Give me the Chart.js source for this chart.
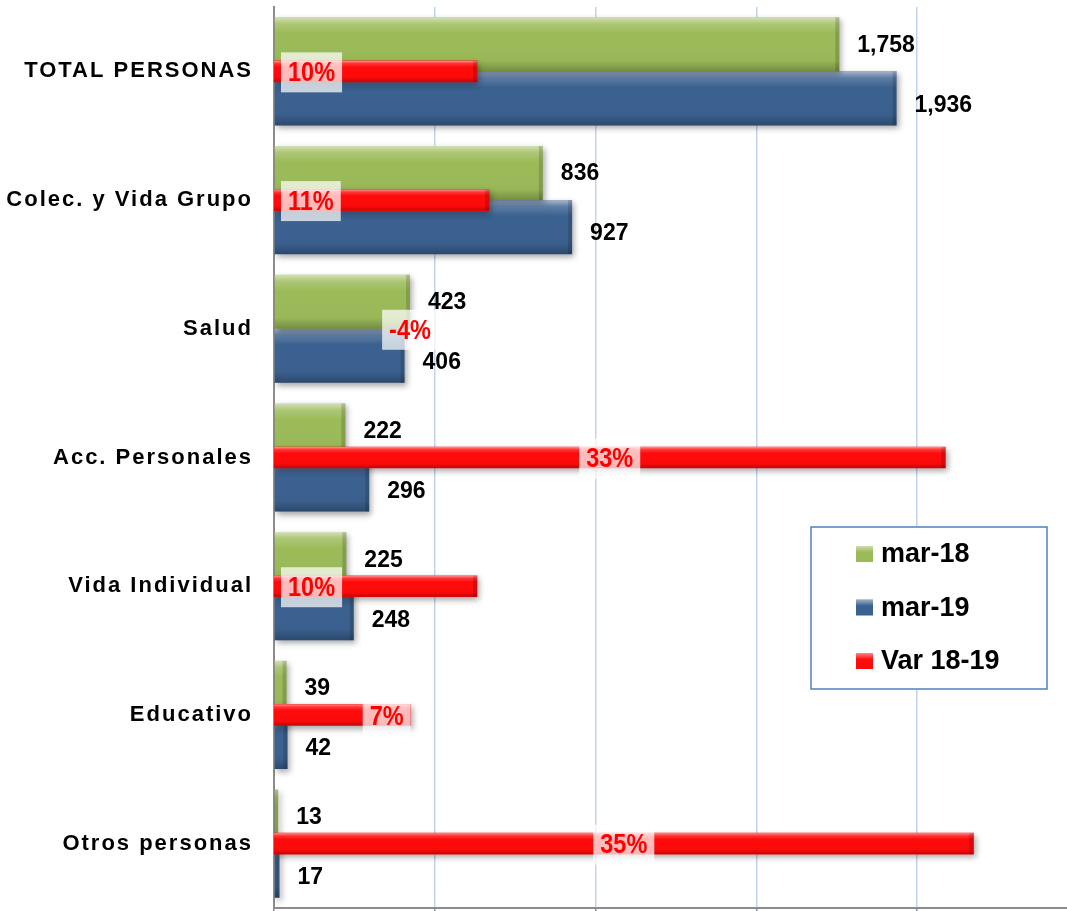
<!DOCTYPE html>
<html>
<head>
<meta charset="utf-8">
<script src="https://cdn.jsdelivr.net/npm/chart.js@4.4.1/dist/chart.umd.min.js"></script>
<style>
  html, body { margin: 0; padding: 0; background: #fff; overflow: hidden; }
  canvas { display: block; }
</style>
</head>
<body>
<canvas id="grafico" width="1067" height="911"></canvas>
<script>
// datos
const categorias = ['TOTAL PERSONAS', 'Colec. y Vida Grupo', 'Salud', 'Acc. Personales', 'Vida Individual', 'Educativo', 'Otros personas'];
const mar18 = [1758, 836, 423, 222, 225, 39, 13];
const mar19 = [1936, 927, 406, 296, 248, 42, 17];
const var1819 = [0.101, 0.107, -0.04, 0.334, 0.101, 0.068, 0.348];
const marcasX = [0, 500, 1000, 1500, 2000];
const nombresSeries = ['mar-18', 'mar-19', 'Var 18-19'];

const VERDE = '#9bbb59';
const AZUL = '#3b6190';
const ROJO = '#ff0a0a';
const FUENTE = '"Liberation Sans", Arial, Helvetica, sans-serif';

// sombra + brillo de las barras (efecto 3D de Excel)
const bisel = {
  id: 'bisel',
  beforeDatasetDraw(chart, args) {
    const ctx = chart.ctx;
    ctx.save();
    ctx.shadowColor = 'rgba(0,0,0,0.35)';
    ctx.shadowBlur = 6;
    ctx.shadowOffsetX = 2;
    ctx.shadowOffsetY = 3;
  },
  afterDatasetDraw(chart, args) {
    const ctx = chart.ctx;
    ctx.restore();
    const area = chart.chartArea;
    ctx.save();
    ctx.beginPath();
    ctx.rect(area.left, area.top, area.right - area.left, area.bottom - area.top);
    ctx.clip();
    args.meta.data.forEach(el => {
      if (el.x <= el.base) return;
      const top = el.y - el.height / 2;
      const bottom = el.y + el.height / 2;
      const g = ctx.createLinearGradient(0, top, 0, bottom);
      g.addColorStop(0, 'rgba(255,255,255,0.55)');
      g.addColorStop(0.12, 'rgba(255,255,255,0.18)');
      g.addColorStop(0.3, 'rgba(255,255,255,0)');
      g.addColorStop(0.8, 'rgba(0,0,0,0.02)');
      g.addColorStop(1, 'rgba(0,0,0,0.25)');
      ctx.fillStyle = g;
      ctx.fillRect(el.base, top, el.x - el.base, el.height);
      // canto derecho mas oscuro
      const w = Math.min(4, el.x - el.base);
      ctx.fillStyle = 'rgba(0,0,0,0.15)';
      ctx.fillRect(el.x - w, top, w, el.height);
    });
    ctx.restore();
  }
};

// espaciado de letras para los nombres de categoria
const espaciado = {
  id: 'espaciado',
  beforeDraw(chart) { chart.ctx.letterSpacing = '2px'; },
  beforeDatasetsDraw(chart) { chart.ctx.letterSpacing = '0px'; }
};

// etiquetas de valores
const etiquetas = {
  id: 'etiquetas',
  afterDatasetsDraw(chart, args, opts) {
    const ctx = chart.ctx;
    ctx.save();
    ctx.textBaseline = 'middle';
    ctx.textAlign = 'left';
    ctx.fillStyle = '#000';
    ctx.font = 'bold 23px ' + FUENTE;
    [0, 1].forEach(di => {
      chart.getDatasetMeta(di).data.forEach((el, i) => {
        const v = chart.data.datasets[di].data[i];
        ctx.fillText(v.toLocaleString('en-US'), el.x + 18, el.y + (di === 1 ? 7 : 1));
      });
    });
    // variacion (letra angosta: Liberation Sans comprimida)
    const esc = 0.84;
    ctx.font = 'bold 28px ' + FUENTE;
    const metaVar = chart.getDatasetMeta(2);
    const metaVerde = chart.getDatasetMeta(0);
    metaVar.data.forEach((el, i) => {
      const v = chart.data.datasets[2].data[i];
      const txt = Math.round(v * 100) + '%';
      const w = ctx.measureText(txt).width * esc + 14;
      const h = 40;
      let cx;
      const anc = opts.ancla[i];
      if (anc === 'start') cx = el.base + 7 + w / 2;
      else if (anc === 'end') cx = el.x - w / 2;
      else if (anc === 'center') cx = (el.base + el.x) / 2;
      else cx = metaVerde.data[i].x;
      ctx.fillStyle = 'rgba(255,255,255,0.72)';
      ctx.fillRect(cx - w / 2, el.y - h / 2 + 1, w, h);
      ctx.save();
      ctx.translate(cx, el.y + 2);
      ctx.scale(esc, 1);
      ctx.fillStyle = '#ff0000';
      ctx.textAlign = 'center';
      ctx.fillText(txt, 0, 0);
      ctx.restore();
    });
    ctx.restore();
  }
};

// leyenda dentro del grafico
const leyenda = {
  id: 'leyenda',
  afterDraw(chart) {
    const ctx = chart.ctx;
    const x = 811, y = 527, w = 236, h = 162;
    ctx.save();
    ctx.fillStyle = '#fff';
    ctx.fillRect(x, y, w, h);
    ctx.strokeStyle = '#4f81bd';
    ctx.lineWidth = 1.5;
    ctx.strokeRect(x, y, w, h);
    ctx.font = 'bold 27px ' + FUENTE;
    ctx.textBaseline = 'middle';
    ctx.textAlign = 'left';
    chart.data.datasets.forEach((ds, i) => {
      const ry = y + 27 + i * 53.5;
      const g = ctx.createLinearGradient(0, ry - 8, 0, ry + 8);
      g.addColorStop(0, 'rgba(255,255,255,0.5)');
      g.addColorStop(0.4, 'rgba(255,255,255,0)');
      ctx.fillStyle = ds.label === nombresSeries[2] ? ROJO : ds.backgroundColor;
      ctx.fillRect(x + 45, ry - 8, 17, 16);
      ctx.fillStyle = g;
      ctx.fillRect(x + 45, ry - 8, 17, 16);
      ctx.fillStyle = '#000';
      ctx.fillText(ds.label, x + 70, ry + 1);
    });
    ctx.restore();
  }
};

const grafico = document.getElementById('grafico').getContext('2d');

let chartPersonas = new Chart(grafico, {
  type: 'bar',
  data: {
    labels: categorias,
    datasets: [
      {
        label: nombresSeries[0],
        data: mar18,
        backgroundColor: VERDE,
        categoryPercentage: 0.84,
        barPercentage: 1.0,
        xAxisID: 'x'
      },
      {
        label: nombresSeries[1],
        data: mar19,
        backgroundColor: AZUL,
        categoryPercentage: 0.84,
        barPercentage: 1.0,
        xAxisID: 'x'
      },
      {
        label: nombresSeries[2],
        data: var1819,
        // el eje secundario empieza en 0: la barra negativa no se ve
        backgroundColor: c => (c.raw < 0 ? 'rgba(0,0,0,0)' : ROJO),
        barThickness: 21,
        grouped: false,
        clip: 0,
        xAxisID: 'x2',
        order: -1
      }
    ]
  },
  options: {
    indexAxis: 'y',
    responsive: false,
    animation: false,
    layout: { padding: { top: 7, right: 0, bottom: 0, left: 0 } },
    plugins: {
      legend: { display: false },
      tooltip: { enabled: false },
      etiquetas: { ancla: ['start', 'start', 'ref', 'center', 'start', 'end', 'center'] }
    },
    scales: {
      x: {
        type: 'linear',
        position: 'bottom',
        min: 0,
        max: 2466,
        afterBuildTicks: s => { s.ticks = marcasX.map(v => ({ value: v })); },
        ticks: { display: false },
        grid: {
          display: true,
          color: '#c3d3ec',
          lineWidth: 1.5,
          tickColor: '#8c8c8c',
          tickLength: 4,
          drawTicks: true
        },
        border: { display: true, color: '#8c8c8c', width: 2 },
        afterFit: s => { s.height = 3; s.paddingLeft = 0; s.paddingRight = 0; }
      },
      x2: {
        type: 'linear',
        axis: 'x',
        position: 'bottom',
        display: false,
        min: 0,
        max: 0.3945
      },
      y: {
        type: 'category',
        position: 'left',
        grid: { display: false, drawTicks: false },
        border: { display: true, color: '#8c8c8c', width: 2 },
        ticks: {
          color: '#000',
          padding: 21,
          font: { family: FUENTE, size: 22, weight: 'bold' }
        },
        afterFit: s => { s.width = 274; s.paddingTop = 0; s.paddingBottom = 0; }
      }
    }
  },
  plugins: [bisel, espaciado, etiquetas, leyenda]
});
</script>
</body>
</html>
